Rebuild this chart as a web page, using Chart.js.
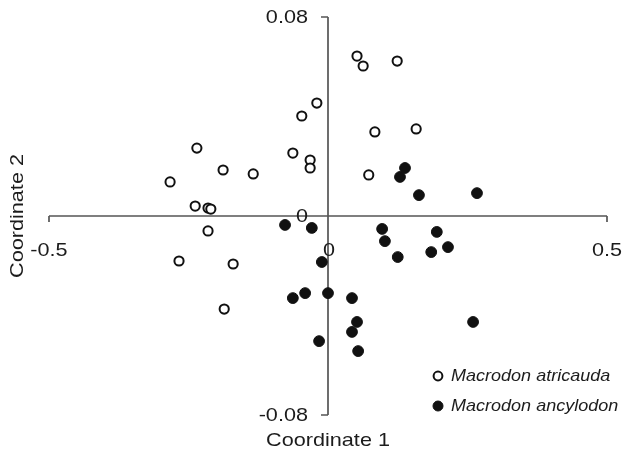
<!DOCTYPE html>
<html>
<head>
<meta charset="utf-8">
<script src="https://cdn.jsdelivr.net/npm/chart.js@4/dist/chart.umd.min.js"></script>
<style>
  html, body { margin: 0; padding: 0; background: #fff; }
  #wrap { width: 624px; height: 464px; }
</style>
</head>
<body>
<div id="wrap"><canvas id="c" width="624" height="464"></canvas></div>
<script>
// values (Coordinate 1, Coordinate 2)
const atricaudaX = [-0.283, -0.235, -0.188, -0.134, -0.238, -0.215, -0.210, -0.215, -0.267, -0.170, -0.186,
  -0.063, -0.032, -0.032, -0.047, -0.020, 0.052, 0.063, 0.124, 0.084, 0.158, 0.073]
const atricaudaY = [0.0137, 0.0273, 0.0185, 0.0169, 0.0040, 0.0032, 0.0028, -0.0060, -0.0181, -0.0193, -0.0374,
  0.0253, 0.0225, 0.0193, 0.0402, 0.0454, 0.0643, 0.0603, 0.0623, 0.0338, 0.0350, 0.0165]
const ancylodonX = [-0.077, -0.029, 0.097, 0.102, 0.125, 0.195, 0.185, 0.215, -0.011, -0.063, -0.041,
  0.000, 0.043, 0.052, 0.043, 0.054, -0.016, 0.260, 0.129, 0.138, 0.163, 0.267]
const ancylodonY = [-0.0036, -0.0048, -0.0052, -0.0101, -0.0165, -0.0064, -0.0145, -0.0125, -0.0185, -0.0330, -0.0310,
  -0.0310, -0.0330, -0.0426, -0.0466, -0.0543, -0.0503, -0.0426, 0.0157, 0.0193, 0.0084, 0.0092]
const seriesNames = ['Macrodon atricauda', 'Macrodon ancylodon']
const xTicks = [-0.5, 0, 0.5]
const xTickLabels = ['-0.5', '0', '0.5']
const yTicks = [-0.08, 0, 0.08]
const yTickLabels = ['-0.08', '0', '0.08']
const xTitle = 'Coordinate 1'
const yTitle = 'Coordinate 2'

const FONT = '"Liberation Sans", Arial, sans-serif'
const INK = '#1c1c1c'
const AXIS = '#555'

function pts(xs, ys) { return xs.map((x, i) => ({ x, y: ys[i] })) }

// text is a bit wider than tall in the original, so stretch it horizontally
function txt(ctx, s, x, y, align, font, sx) {
  ctx.save()
  ctx.translate(x, y)
  ctx.scale(sx, 1)
  ctx.font = font
  ctx.fillStyle = INK
  ctx.textAlign = align
  ctx.textBaseline = 'middle'
  ctx.fillText(s, 0, 0)
  ctx.restore()
}

const crossAxes = {
  id: 'crossAxes',
  beforeDatasetsDraw(chart) {
    const { ctx, scales: { x, y } } = chart
    const x0 = x.getPixelForValue(0), y0 = y.getPixelForValue(0)
    const xl = x.getPixelForValue(xTicks[0]), xr = x.getPixelForValue(xTicks[xTicks.length - 1])
    const yb = y.getPixelForValue(yTicks[0]), yt = y.getPixelForValue(yTicks[yTicks.length - 1])
    ctx.save()
    ctx.strokeStyle = AXIS
    ctx.lineWidth = 1.7
    ctx.beginPath()
    ctx.moveTo(xl, y0); ctx.lineTo(xr, y0)
    ctx.moveTo(x0, yt); ctx.lineTo(x0, yb)
    xTicks.forEach(v => { const p = x.getPixelForValue(v); ctx.moveTo(p, y0); ctx.lineTo(p, y0 + 6) })
    yTicks.forEach(v => { const p = y.getPixelForValue(v); ctx.moveTo(x0, p); ctx.lineTo(x0 - 7, p) })
    ctx.stroke()
    ctx.restore()
  },
  afterDatasetsDraw(chart) {
    const { ctx, scales: { x, y } } = chart
    const x0 = x.getPixelForValue(0), y0 = y.getPixelForValue(0)
    const f = '18.5px ' + FONT
    xTicks.forEach((v, i) => txt(ctx, xTickLabels[i], x.getPixelForValue(v) + (v === 0 ? 1 : 0), y0 + 35, 'center', f, 1.17))
    yTicks.forEach((v, i) => txt(ctx, yTickLabels[i], x0 - 20, y.getPixelForValue(v) + 1, 'right', f, 1.17))
    txt(ctx, xTitle, x0, 441, 'center', f, 1.17)
    ctx.save()
    ctx.translate(18, y0)
    ctx.rotate(-Math.PI / 2)
    txt(ctx, yTitle, 0, 0, 'center', f, 1.17)
    ctx.restore()

    // legend, bottom right
    const lf = 'italic 17px ' + FONT
    chart.data.datasets.forEach((ds, i) => {
      const ly = 376 + i * 30
      ctx.save()
      ctx.beginPath()
      ctx.arc(438, ly, i ? 5 : 4.4, 0, Math.PI * 2)
      ctx.fillStyle = ds.backgroundColor
      ctx.fill()
      ctx.lineWidth = ds.borderWidth
      ctx.strokeStyle = ds.borderColor
      ctx.stroke()
      ctx.restore()
      txt(ctx, ds.label, 451, ly, 'left', lf, 1.06)
    })
  }
}

new Chart(document.getElementById('c'), {
  type: 'scatter',
  data: {
    datasets: [
      { label: seriesNames[0], data: pts(atricaudaX, atricaudaY), backgroundColor: '#fff', borderColor: '#111', borderWidth: 2, pointRadius: 4.6 },
      { label: seriesNames[1], data: pts(ancylodonX, ancylodonY), backgroundColor: '#111', borderColor: '#111', borderWidth: 1, pointRadius: 5.4 }
    ]
  },
  options: {
    responsive: false,
    animation: false,
    clip: false,
    layout: { padding: { left: 49, right: 17, top: 17, bottom: 49 } },
    plugins: { legend: { display: false }, tooltip: { enabled: false } },
    scales: {
      x: { type: 'linear', min: -0.5, max: 0.5, display: false },
      y: { type: 'linear', min: -0.08, max: 0.08, display: false }
    }
  },
  plugins: [crossAxes]
})
</script>
</body>
</html>
